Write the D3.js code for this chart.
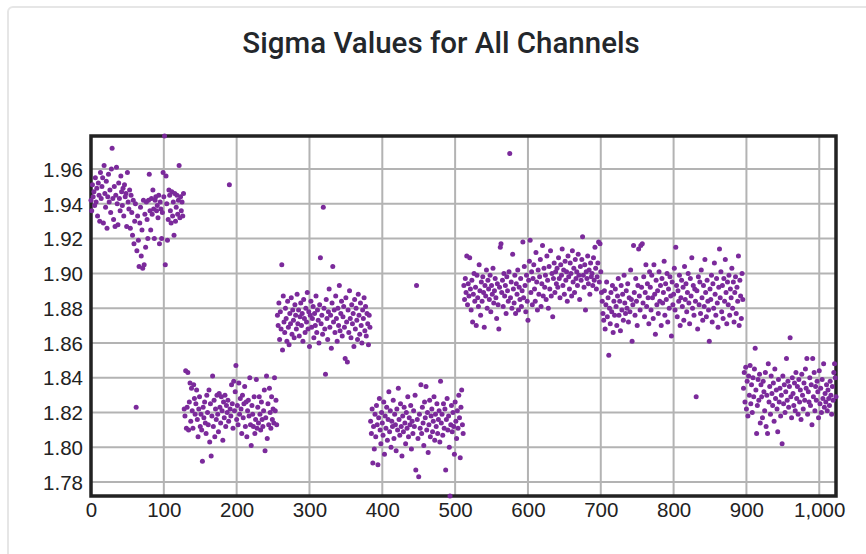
<!DOCTYPE html>
<html>
<head>
<meta charset="utf-8">
<script src="https://cdn.jsdelivr.net/npm/d3@7"></script>
<style>
  html, body { margin: 0; padding: 0; background: #ffffff; }
  svg { display: block; }
</style>
</head>
<body>
<svg id="chart" width="866" height="554"></svg>
<script>
const title = "Sigma Values for All Channels";

// Channel index where each block of 128 channels starts
const blockStarts = [0, 128, 256, 384, 512, 640, 768, 896];

// Sigma values, one per channel (block by block)
const sigmaBlock0 = [
  1.942,1.936,1.951,1.944,1.947,1.939,1.955,1.941,1.949,1.933,1.952,1.945,1.930,1.958,1.943,1.950,
  1.955,1.929,1.962,1.946,1.938,1.953,1.926,1.944,1.957,1.941,1.948,1.935,1.960,1.972,1.943,1.931,
  1.950,1.927,1.945,1.961,1.940,1.928,1.952,1.943,1.936,1.956,1.947,1.939,1.949,1.933,1.951,1.944,
  1.946,1.927,1.958,1.941,1.937,1.948,1.926,1.945,1.935,1.922,1.942,1.917,1.930,1.940,1.823,1.913,
  1.933,1.919,1.904,1.929,1.938,1.910,1.925,1.903,1.942,1.905,1.934,1.915,1.941,1.931,1.920,1.942,
  1.957,1.936,1.925,1.943,1.934,1.948,1.937,1.920,1.942,1.944,1.936,1.939,1.932,1.945,1.917,1.941,
  1.937,1.920,1.935,1.958,1.944,1.979,1.905,1.956,1.940,1.919,1.931,1.948,1.945,1.936,1.929,1.947,
  1.933,1.941,1.922,1.946,1.930,1.938,1.945,1.934,1.942,1.962,1.932,1.944,1.936,1.941,1.933,1.946
];
const sigmaBlock1 = [
  1.822,1.818,1.844,1.811,1.823,1.843,1.810,1.826,1.837,1.815,1.834,1.821,1.811,1.836,1.828,1.819,
  1.825,1.833,1.816,1.806,1.822,1.829,1.812,1.819,1.810,1.792,1.823,1.817,1.826,1.814,1.808,1.830,
  1.820,1.813,1.833,1.803,1.825,1.795,1.818,1.841,1.812,1.827,1.806,1.822,1.816,1.830,1.819,1.809,
  1.831,1.823,1.814,1.829,1.821,1.804,1.826,1.817,1.830,1.812,1.824,1.820,1.827,1.815,1.951,1.822,
  1.818,1.836,1.825,1.811,1.838,1.821,1.832,1.847,1.816,1.824,1.813,1.837,1.819,1.828,1.822,1.808,
  1.830,1.817,1.825,1.835,1.812,1.826,1.806,1.821,1.827,1.818,1.840,1.813,1.801,1.824,1.819,1.812,
  1.829,1.808,1.816,1.839,1.811,1.823,1.814,1.829,1.819,1.810,1.826,1.816,1.812,1.821,1.833,1.798,
  1.817,1.841,1.805,1.825,1.813,1.834,1.820,1.811,1.829,1.816,1.822,1.814,1.840,1.821,1.827,1.813
];
const sigmaBlock2 = [
  1.876,1.870,1.883,1.862,1.878,1.868,1.905,1.856,1.887,1.872,1.866,1.880,1.874,1.861,1.884,1.869,
  1.859,1.877,1.871,1.886,1.865,1.879,1.873,1.863,1.882,1.876,1.868,1.888,1.871,1.879,1.864,1.875,
  1.883,1.870,1.877,1.861,1.885,1.874,1.866,1.880,1.872,1.889,1.868,1.878,1.858,1.876,1.884,1.869,
  1.874,1.881,1.863,1.877,1.870,1.887,1.866,1.879,1.873,1.860,1.882,1.909,1.871,1.876,1.865,1.938,
  1.880,1.868,1.842,1.885,1.874,1.862,1.878,1.891,1.869,1.876,1.857,1.883,1.904,1.872,1.879,1.866,
  1.887,1.874,1.861,1.880,1.870,1.893,1.867,1.877,1.884,1.864,1.875,1.881,1.869,1.851,1.886,1.872,
  1.849,1.879,1.866,1.890,1.874,1.863,1.882,1.871,1.877,1.858,1.885,1.868,1.880,1.873,1.862,1.888,
  1.876,1.865,1.883,1.870,1.860,1.879,1.874,1.886,1.867,1.881,1.864,1.877,1.871,1.859,1.876,1.869
];
const sigmaBlock3 = [
  1.815,1.808,1.822,1.791,1.812,1.799,1.819,1.806,1.824,1.813,1.790,1.817,1.828,1.810,1.802,1.820,
  1.814,1.807,1.826,1.796,1.818,1.811,1.823,1.804,1.816,1.832,1.809,1.821,1.800,1.815,1.812,1.827,
  1.805,1.819,1.813,1.798,1.822,1.810,1.834,1.816,1.807,1.825,1.812,1.795,1.818,1.809,1.823,1.814,
  1.802,1.820,1.811,1.829,1.806,1.817,1.813,1.824,1.799,1.815,1.808,1.821,1.812,1.830,1.787,1.893,
  1.816,1.805,1.783,1.819,1.811,1.836,1.808,1.823,1.814,1.801,1.826,1.817,1.835,1.810,1.820,1.797,
  1.813,1.827,1.806,1.818,1.822,1.809,1.815,1.829,1.804,1.819,1.812,1.825,1.808,1.816,1.821,1.803,
  1.838,1.814,1.819,1.807,1.825,1.811,1.822,1.787,1.816,1.828,1.810,1.818,1.800,1.772,1.813,1.824,
  1.809,1.820,1.812,1.796,1.826,1.815,1.805,1.821,1.811,1.830,1.817,1.794,1.823,1.833,1.813,1.808
];
const sigmaBlock4 = [
  1.893,1.885,1.897,1.889,1.910,1.882,1.894,1.887,1.909,1.891,1.879,1.896,1.872,1.888,1.900,1.884,
  1.892,1.870,1.899,1.886,1.881,1.905,1.890,1.876,1.895,1.884,1.898,1.889,1.869,1.893,1.887,1.902,
  1.880,1.896,1.891,1.885,1.899,1.878,1.893,1.888,1.903,1.883,1.890,1.897,1.886,1.874,1.894,1.882,
  1.868,1.892,1.915,1.917,1.889,1.896,1.881,1.900,1.887,1.893,1.877,1.898,1.890,1.884,1.901,1.969,
  1.886,1.895,1.880,1.911,1.891,1.883,1.899,1.877,1.894,1.888,1.902,1.879,1.892,1.885,1.897,1.881,
  1.890,1.918,1.886,1.904,1.893,1.878,1.899,1.884,1.873,1.896,1.907,1.919,1.889,1.901,1.882,1.897,
  1.905,1.891,1.884,1.912,1.895,1.879,1.902,1.888,1.898,1.908,1.881,1.894,1.916,1.887,1.903,1.892,
  1.899,1.885,1.910,1.896,1.880,1.904,1.891,1.913,1.887,1.900,1.875,1.897,1.906,1.889,1.901,1.894
];
const sigmaBlock5 = [
  1.903,1.892,1.909,1.897,1.886,1.905,1.899,1.914,1.893,1.902,1.888,1.907,1.896,1.901,1.884,1.910,
  1.898,1.891,1.906,1.900,1.887,1.913,1.895,1.903,1.889,1.908,1.897,1.901,1.893,1.911,1.899,1.885,
  1.904,1.896,1.908,1.921,1.899,1.892,1.905,1.879,1.901,1.897,1.910,1.894,1.902,1.888,1.906,1.898,
  1.900,1.893,1.909,1.896,1.915,1.903,1.891,1.898,1.906,1.918,1.895,1.917,1.901,1.889,1.884,1.877,
  1.873,1.890,1.868,1.882,1.895,1.875,1.886,1.853,1.880,1.871,1.889,1.878,1.893,1.866,1.884,1.876,
  1.891,1.881,1.870,1.887,1.897,1.876,1.884,1.867,1.893,1.879,1.888,1.873,1.899,1.883,1.877,1.890,
  1.880,1.894,1.872,1.886,1.878,1.902,1.885,1.861,1.882,1.916,1.889,1.876,1.897,1.884,1.870,1.893,
  1.914,1.887,1.879,1.916,1.892,1.917,1.883,1.898,1.875,1.889,1.905,1.881,1.894,1.886,1.871,1.901
];
const sigmaBlock6 = [
  1.892,1.879,1.899,1.886,1.874,1.905,1.888,1.865,1.896,1.882,1.890,1.877,1.901,1.884,1.893,1.870,
  1.897,1.883,1.889,1.907,1.876,1.894,1.885,1.900,1.872,1.891,1.880,1.898,1.887,1.864,1.895,1.882,
  1.888,1.903,1.879,1.915,1.893,1.875,1.890,1.884,1.899,1.870,1.886,1.896,1.881,1.892,1.873,1.904,
  1.885,1.894,1.878,1.889,1.900,1.883,1.871,1.897,1.887,1.909,1.880,1.893,1.876,1.891,1.884,1.829,
  1.890,1.868,1.898,1.882,1.895,1.877,1.902,1.886,1.873,1.893,1.881,1.908,1.889,1.875,1.896,1.884,
  1.879,1.861,1.891,1.885,1.899,1.872,1.894,1.880,1.906,1.888,1.876,1.897,1.883,1.869,1.892,1.914,
  1.886,1.901,1.878,1.893,1.874,1.897,1.884,1.908,1.889,1.871,1.895,1.882,1.899,1.876,1.891,1.886,
  1.903,1.880,1.895,1.872,1.889,1.898,1.877,1.892,1.884,1.910,1.870,1.896,1.887,1.874,1.900,1.885
];
const sigmaBlock7 = [
  1.834,1.843,1.826,1.846,1.822,1.838,1.818,1.841,1.830,1.847,1.825,1.836,1.820,1.840,1.829,1.845,
  1.857,1.833,1.808,1.824,1.839,1.827,1.842,1.814,1.836,1.829,1.817,1.838,1.832,1.821,1.843,1.812,
  1.830,1.808,1.848,1.826,1.835,1.819,1.841,1.831,1.824,1.837,1.815,1.845,1.828,1.833,1.822,1.809,
  1.839,1.826,1.834,1.818,1.830,1.802,1.841,1.825,1.836,1.820,1.832,1.851,1.827,1.838,1.823,1.835,
  1.863,1.829,1.817,1.840,1.831,1.824,1.837,1.821,1.843,1.828,1.835,1.819,1.839,1.826,1.833,1.816,
  1.842,1.830,1.822,1.837,1.827,1.845,1.834,1.851,1.819,1.832,1.826,1.840,1.824,1.836,1.813,1.851,
  1.829,1.843,1.821,1.835,1.827,1.838,1.832,1.817,1.844,1.825,1.834,1.820,1.839,1.828,1.848,1.823,
  1.831,1.826,1.836,1.821,1.833,1.828,1.824,1.838,1.830,1.819,1.835,1.827,1.843,1.848,1.840,1.829
];

const xTicks = [0, 100, 200, 300, 400, 500, 600, 700, 800, 900, 1000];
const yTicks = [1.78, 1.80, 1.82, 1.84, 1.86, 1.88, 1.90, 1.92, 1.94, 1.96];

const blocks = [sigmaBlock0, sigmaBlock1, sigmaBlock2, sigmaBlock3,
                sigmaBlock4, sigmaBlock5, sigmaBlock6, sigmaBlock7];
const points = [];
blocks.forEach((arr, b) => arr.forEach((v, i) => points.push({ ch: blockStarts[b] + i, v })));

const svg = d3.select("#chart");

// card
svg.append("rect")
  .attr("x", 8).attr("y", 7).attr("width", 900).attr("height", 600)
  .attr("rx", 5).attr("fill", "#fff")
  .attr("stroke", "#e6e6e6").attr("stroke-width", 2);

// title
svg.append("text")
  .attr("x", 441).attr("y", 53)
  .attr("text-anchor", "middle")
  .attr("font-family", "Roboto, 'Noto Sans', sans-serif")
  .attr("font-weight", 500)
  .attr("font-size", 29.5)
  .attr("fill", "#23272b")
  .text(title);

const L = 91, R = 836, T = 136, B = 496;
const x = d3.scaleLinear().domain(d3.extent(points, d => d.ch)).range([L, R]);
const y = d3.scaleLinear().domain(d3.extent(points, d => d.v)).range([B, T]);

// gridlines
const grid = svg.append("g");
grid.selectAll("line.v").data(xTicks.filter(t => t > 0)).join("line")
  .attr("x1", d => x(d)).attr("x2", d => x(d))
  .attr("y1", T).attr("y2", B)
  .attr("stroke", "#b3b3b3").attr("stroke-width", 2);
grid.selectAll("line.h").data(yTicks).join("line")
  .attr("x1", L).attr("x2", R)
  .attr("y1", d => y(d)).attr("y2", d => y(d))
  .attr("stroke", "#b3b3b3").attr("stroke-width", 2);

// axes (labels only)
const fmtX = d3.format(",");
const xAxis = d3.axisBottom(x).tickValues(xTicks).tickFormat(fmtX).tickSize(0).tickPadding(0);
const yAxis = d3.axisLeft(y).tickValues(yTicks).tickFormat(d3.format(".2f")).tickSize(0).tickPadding(0);

const gx = svg.append("g").attr("transform", `translate(0,${B})`).call(xAxis);
const gy = svg.append("g").attr("transform", `translate(${L},0)`).call(yAxis);
[gx, gy].forEach(g => {
  g.select(".domain").remove();
  g.selectAll("text")
    .attr("font-family", "'Liberation Sans', Arial, Helvetica, sans-serif")
    .attr("font-size", 20.5)
    .attr("fill", "#222");
});
gx.selectAll("text").attr("dy", null).attr("y", 21);
gy.selectAll("text").attr("x", -8).attr("dy", "0.35em");

// frame
svg.append("rect")
  .attr("x", L).attr("y", T).attr("width", R - L).attr("height", B - T)
  .attr("fill", "none").attr("stroke", "#222").attr("stroke-width", 3.5);

// points
svg.append("g").selectAll("circle").data(points).join("circle")
  .attr("cx", d => x(d.ch)).attr("cy", d => y(d.v))
  .attr("r", 2.5).attr("fill", "#7b2a9b");
</script>
</body>
</html>
